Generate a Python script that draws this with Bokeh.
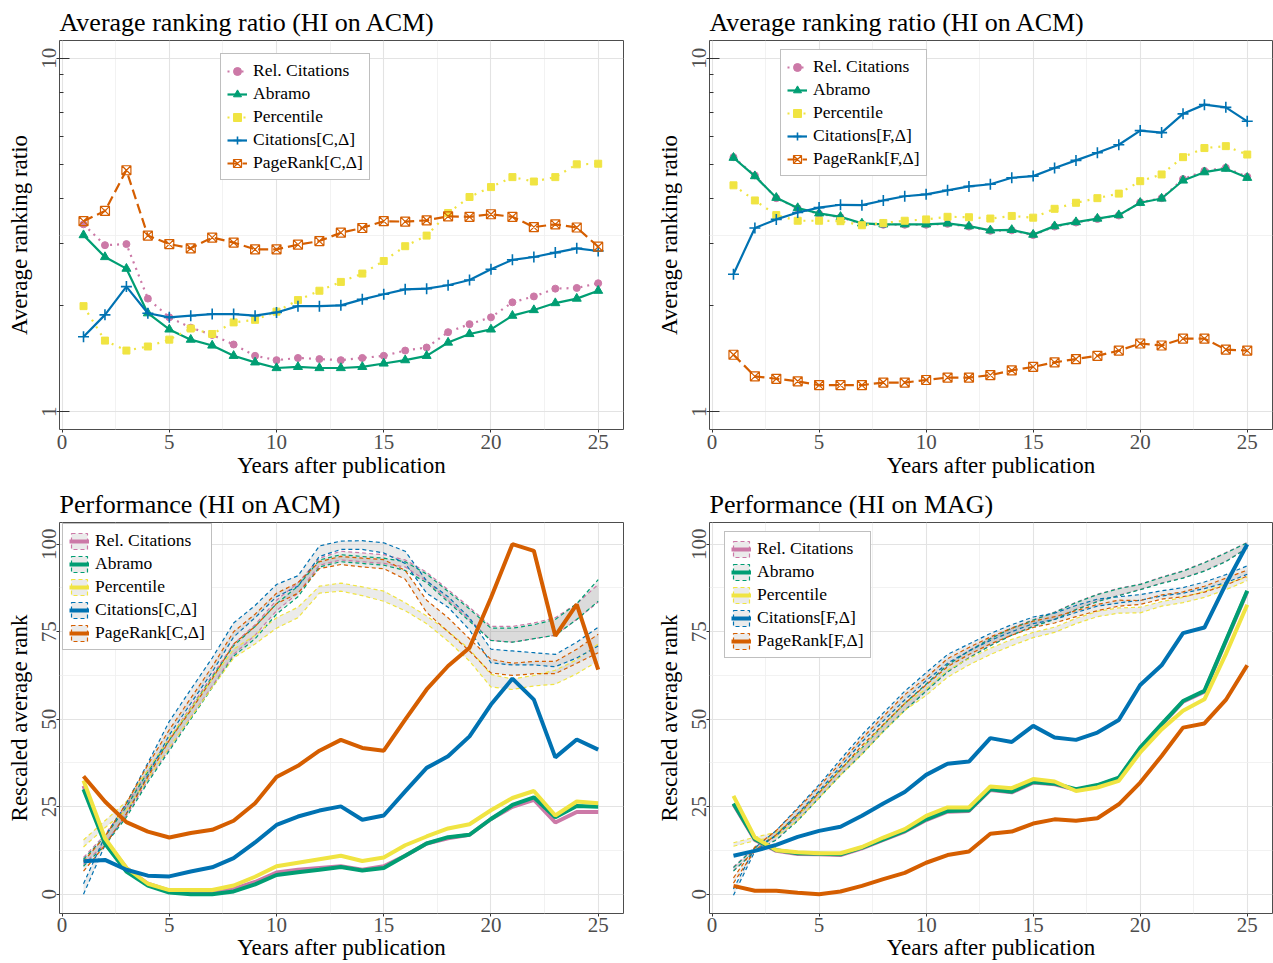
from bokeh.plotting import figure
from bokeh.layouts import column, row
from bokeh.models import FixedTicker, Legend, LegendItem, Range1d, NumeralTickFormatter
from bokeh.embed import file_html
from bokeh.resources import INLINE

FONT = "Liberation Serif"

years = list(range(1, 26))
names_C = ["Rel. Citations", "Abramo", "Percentile", "Citations[C,Δ]", "PageRank[C,Δ]"]
names_F = ["Rel. Citations", "Abramo", "Percentile", "Citations[F,Δ]", "PageRank[F,Δ]"]
colors = ["#CC79A7", "#009E73", "#F0E442", "#0072B2", "#D55E00"]
x_ticks = [0, 5, 10, 15, 20, 25]
x_minor = [2.5, 7.5, 12.5, 17.5, 22.5]
log_ticks = [1, 10]
log_minor_ticks = [2, 3, 4, 5, 6, 7, 8, 9]
rank_ticks = [0, 25, 50, 75, 100]
rank_minor = [12.5, 37.5, 62.5, 87.5]

# ---- Top-left: Average ranking ratio (HI on ACM), [C,Δ]
tl_rel = [3.39, 2.96, 2.98, 2.09, 1.85, 1.73, 1.65, 1.55, 1.44, 1.40, 1.42, 1.41, 1.40, 1.42, 1.44, 1.49, 1.52, 1.68, 1.77, 1.85, 2.04, 2.12, 2.23, 2.24, 2.31]
tl_abr = [3.16, 2.74, 2.54, 1.90, 1.71, 1.60, 1.54, 1.44, 1.38, 1.33, 1.34, 1.33, 1.33, 1.34, 1.37, 1.40, 1.44, 1.57, 1.66, 1.71, 1.87, 1.94, 2.03, 2.09, 2.20]
tl_pct = [1.99, 1.59, 1.49, 1.53, 1.60, 1.72, 1.66, 1.79, 1.82, 1.92, 2.07, 2.20, 2.33, 2.46, 2.67, 2.94, 3.15, 3.65, 4.05, 4.32, 4.61, 4.48, 4.61, 5.01, 5.03]
tl_cit = [1.63, 1.88, 2.26, 1.90, 1.85, 1.87, 1.89, 1.89, 1.87, 1.91, 1.99, 1.99, 2.00, 2.08, 2.15, 2.22, 2.23, 2.28, 2.36, 2.53, 2.69, 2.74, 2.82, 2.90, 2.85]
tl_pr = [3.46, 3.70, 4.82, 3.15, 2.98, 2.90, 3.11, 3.01, 2.88, 2.88, 2.97, 3.04, 3.21, 3.31, 3.46, 3.45, 3.48, 3.57, 3.56, 3.62, 3.56, 3.33, 3.39, 3.32, 2.93]

# ---- Top-right: Average ranking ratio, [F,Δ]
tr_rel = [5.25, 4.66, 4.02, 3.76, 3.63, 3.55, 3.40, 3.38, 3.38, 3.38, 3.40, 3.34, 3.25, 3.26, 3.16, 3.34, 3.43, 3.51, 3.59, 3.91, 4.02, 4.55, 4.80, 4.90, 4.62]
tr_abr = [5.23, 4.64, 4.03, 3.77, 3.64, 3.56, 3.41, 3.39, 3.39, 3.39, 3.41, 3.35, 3.26, 3.27, 3.17, 3.35, 3.44, 3.52, 3.60, 3.90, 4.01, 4.51, 4.76, 4.87, 4.59]
tr_pct = [4.37, 3.96, 3.60, 3.47, 3.47, 3.46, 3.37, 3.42, 3.47, 3.50, 3.56, 3.55, 3.52, 3.58, 3.54, 3.75, 3.90, 4.02, 4.14, 4.49, 4.69, 5.25, 5.57, 5.64, 5.34]
tr_cit = [2.45, 3.31, 3.50, 3.66, 3.78, 3.85, 3.84, 3.96, 4.07, 4.12, 4.23, 4.34, 4.40, 4.59, 4.64, 4.89, 5.14, 5.40, 5.69, 6.24, 6.16, 6.96, 7.39, 7.26, 6.63]
tr_pr = [1.45, 1.26, 1.24, 1.22, 1.19, 1.19, 1.19, 1.21, 1.21, 1.23, 1.25, 1.25, 1.27, 1.31, 1.34, 1.38, 1.41, 1.44, 1.49, 1.56, 1.54, 1.61, 1.61, 1.50, 1.49]

# ---- Bottom-left: Performance (HI on ACM) solid lines
bl_rel = [31, 15.5, 7.5, 3, 1, 0.5, 0.5, 1.5, 3.5, 6.2, 7, 7.5, 8, 7, 8, 11, 14.5, 16, 17, 21.5, 25, 27, 20.5, 23.5, 23.5]
bl_abr = [30, 14.5, 6.5, 2.5, 0.5, 0, 0, 0.8, 2.8, 5.5, 6.3, 7, 7.8, 6.8, 7.5, 11, 14.5, 16.3, 17, 21.5, 25.5, 27.7, 22, 25.2, 25]
bl_pct = [32.5, 16, 7.5, 3, 1.2, 1.2, 1.2, 2.5, 5, 8, 9, 10, 11, 9.5, 10.5, 14, 16.5, 18.8, 20, 24, 27.5, 29.5, 22.5, 26.5, 26]
bl_cit = [9.4, 9.8, 7.0, 5.3, 5.1, 6.5, 7.7, 10.3, 14.8, 19.8, 22.2, 23.9, 25.1, 21.3, 22.5, 29.4, 36.1, 39.4, 45.1, 54.2, 61.6, 55.6, 39.1, 44.2, 41.3]
bl_pr = [33.7, 26.5, 20.6, 17.9, 16.2, 17.5, 18.4, 21.0, 26.0, 33.5, 36.7, 41.0, 44.1, 41.8, 41.0, 49.9, 58.5, 65.2, 70.4, 84.7, 100, 98.1, 73.8, 82.8, 64.2]
# bands (lower / upper)
bl_rel_lo = [8.5, 14.5, 22.5, 32.5, 41.5, 50.5, 59.5, 68.5, 74, 81, 86, 94, 95.5, 95, 94.5, 93.5, 89.5, 84, 78.5, 72.5, 72, 73, 74, 78.5, 83.5]
bl_rel_hi = [10.5, 17, 25.5, 35.5, 44.5, 53.5, 62.5, 71.5, 77, 84, 89, 96, 98, 97.5, 97, 95.5, 92, 87, 82, 76.5, 76.5, 77.5, 79, 83, 88.5]
bl_abr_lo = [8, 14, 22, 32, 41, 50, 59, 68, 73, 80, 85, 93.5, 95, 94.5, 94, 92.5, 89, 83.5, 78, 72.5, 72, 73, 74, 78.5, 83.7]
bl_abr_hi = [10, 16.5, 25, 35, 44, 53, 62, 71, 76.5, 83, 88, 95.5, 97, 96.5, 96, 95, 91.5, 86.5, 81.5, 76, 76, 77, 78.5, 83, 89.9]
bl_pct_lo = [13.5, 19, 24, 33, 42, 50.5, 59, 67.5, 71.5, 76, 79, 86, 86.6, 85.3, 83.7, 81, 77.3, 72.3, 66.6, 59.2, 58.5, 59.5, 60, 63, 66.6]
bl_pct_hi = [15.5, 21, 26.5, 35.5, 44.7, 53, 61.5, 70, 74, 79, 82, 88, 88.9, 87.8, 86.6, 83.3, 79.5, 75.1, 70, 62.8, 61.5, 62.5, 64, 67, 71.5]
bl_cit_lo = [0, 14, 23, 34, 45.5, 54.5, 63.5, 73.5, 79, 85, 88, 96.5, 98.5, 98.5, 97.5, 94.5, 86, 82, 75.5, 66.1, 65.5, 65.5, 65, 67.5, 70.9]
bl_cit_hi = [3, 16.5, 26, 37.5, 49.4, 58.5, 67.5, 77.5, 82.5, 88.5, 91, 99.5, 100.9, 101, 100.4, 98, 89.5, 85, 79, 70, 69.5, 69, 68.5, 72, 76.3]
bl_pr_lo = [6.6, 14, 23, 33.5, 44, 52.5, 61.5, 71.5, 76.5, 83, 86, 93, 94.2, 93.5, 93, 90, 80.5, 75, 69.5, 63.2, 62.5, 63, 63, 66, 69]
bl_pr_hi = [9.4, 16.5, 26, 37, 47, 56, 65, 75, 80, 86, 89, 95, 96.5, 96, 95.6, 92.5, 84, 79, 73, 67.1, 66, 66.5, 66.5, 70, 74.3]

# ---- Bottom-right: Performance (HI on MAG) solid lines
br_rel = [25.7, 15.5, 12.4, 11.5, 11.4, 11.2, 13.1, 15.5, 17.9, 21.2, 23.6, 23.8, 29.8, 29.1, 31.9, 31.4, 29.8, 31.0, 33.1, 41.7, 48.4, 55.0, 57.9, 72.2, 86.5]
br_abr = [25.9, 15.7, 12.6, 11.7, 11.6, 11.4, 13.3, 15.7, 18.1, 21.4, 23.8, 24.0, 30.0, 29.3, 32.1, 31.6, 30.0, 31.2, 33.3, 41.9, 48.6, 55.2, 58.1, 72.4, 86.7]
br_pct = [28.1, 16.2, 12.6, 12.0, 11.7, 11.7, 13.5, 16.2, 18.6, 22.4, 24.8, 24.8, 30.8, 30.3, 32.9, 32.2, 29.5, 30.5, 32.4, 40.5, 47.1, 52.4, 55.7, 68.6, 82.7]
br_cit = [11.0, 12.4, 14.1, 16.4, 18.1, 19.3, 22.4, 25.9, 29.2, 34.1, 37.3, 37.9, 44.6, 43.5, 48.1, 44.8, 44.1, 46.2, 49.8, 59.8, 65.4, 74.6, 76.2, 88.6, 100]
br_pr = [2.4, 1.0, 1.0, 0.4, 0, 0.8, 2.4, 4.3, 6.1, 9.0, 11.2, 12.2, 17.3, 17.9, 20.2, 21.4, 21.0, 21.7, 25.7, 31.9, 39.5, 47.6, 48.8, 55.5, 65.4]
br_rel_lo = [6.8, 12.4, 15.6, 21.1, 27.6, 34.1, 40.1, 46.6, 52.6, 58.1, 63.6, 67.6, 71.1, 74.1, 76.6, 78.6, 81.4, 83.7, 85.4, 87.1, 88.9, 90.4, 92.4, 95.1, 99]
br_rel_hi = [7.8, 13.4, 16.8, 22.5, 29.1, 35.8, 41.9, 48.4, 54.6, 60.1, 65.6, 69.6, 73.1, 76.1, 78.4, 80.6, 83.4, 85.7, 87.4, 88.6, 90.6, 92.4, 94.8, 97.6, 100.5]
br_abr_lo = [6.6, 12.3, 15.5, 21, 27.5, 34, 40, 46.5, 52.5, 58, 63.5, 67.5, 71, 74, 76.5, 78.5, 81.3, 83.6, 85.3, 87, 88.8, 90.3, 92.3, 95, 98.9]
br_abr_hi = [7.6, 13.3, 16.7, 22.4, 29, 35.7, 41.8, 48.3, 54.5, 60, 65.5, 69.5, 73, 76, 78.3, 80.5, 83.3, 85.6, 87.3, 88.5, 90.5, 92.3, 94.7, 97.5, 100.4]
br_pct_lo = [13.7, 15.3, 16.5, 21, 27.5, 34, 40, 46.5, 52.5, 56.8, 62, 65.5, 68.5, 71, 73.3, 74.8, 77.3, 79.3, 80.3, 80.4, 82.3, 83.3, 84.8, 87, 89.6]
br_pct_hi = [14.7, 16.3, 17.7, 22.4, 29, 35.7, 41.8, 48.3, 54.5, 58.6, 64, 67.3, 70.3, 72.8, 74.8, 76.3, 78.8, 80.8, 81.8, 82, 83.6, 84.8, 86.5, 88.7, 90.6]
br_cit_lo = [-0.3, 12.3, 17, 23, 29.5, 36.5, 43.5, 49.5, 55.5, 61, 66, 69.5, 72.5, 75, 77.3, 78.5, 80.5, 82.3, 83.2, 84, 85.2, 86, 87.3, 89, 91.4]
br_cit_hi = [1.5, 13.3, 18.2, 24.7, 31.3, 38.5, 45.6, 51.8, 58, 63.3, 68.5, 71.5, 74.5, 77, 79.2, 80.3, 82.5, 84.3, 85, 85.6, 86.7, 87.6, 89.2, 91.3, 93.8]
br_pr_lo = [3.2, 12.5, 17, 22.8, 29, 35.5, 42.5, 48.5, 54.5, 59.8, 65, 68.5, 71.5, 74, 76.2, 77.5, 79.3, 81, 82.3, 82.8, 84.3, 85, 86.3, 88.3, 90.9]
br_pr_hi = [4.7, 13.5, 18.2, 24.4, 30.8, 37.5, 44.5, 50.8, 57, 61.9, 67.3, 70.5, 73.5, 76, 78, 79.3, 81, 82.8, 84, 83.9, 85.5, 86.4, 88, 90.3, 92.6]

# ---------------------------------------------------------------------------
line_dashes = ["2 5", "solid", "2 6", "solid", "10 5"]
markers = ["circle", "triangle", "square", "cross", "square_x"]
marker_sizes = [7, 9, 7, 11, 9]
NAN = float("nan")


def make_fig(title, ylabel, w, h, left, right, top, bottom, log, xstand):
    kw = dict(width=w, height=h, output_backend="svg", toolbar_location=None,
              x_range=Range1d(-0.12, 26.18),
              min_border_left=left, min_border_right=right,
              min_border_top=top, min_border_bottom=bottom,
              x_axis_label="Years after publication", y_axis_label=ylabel,
              title=title)
    if log:
        kw.update(y_axis_type="log", y_range=Range1d(10 ** -0.05, 10 ** 1.05))
    else:
        kw.update(y_range=Range1d(-5.5, 106.2))
    p = figure(**kw)
    p.title.text_font = FONT
    p.title.text_font_size = "26px"
    p.title.text_font_style = "normal"
    p.title.text_color = "#000000"
    p.title.align = "left"
    p.title.offset = 0
    p.title.standoff = 7
    p.outline_line_color = "#4d4d4d"
    p.outline_line_width = 1
    p.outline_line_alpha = 1
    for ax in p.axis:
        ax.axis_label_text_font = FONT
        ax.axis_label_text_font_size = "23px"
        ax.axis_label_text_font_style = "normal"
        ax.axis_label_text_color = "#000000"
        ax.major_label_text_font = FONT
        ax.major_label_text_font_size = "21px"
        ax.major_label_text_color = "#4d4d4d"
        ax.axis_line_color = None
        ax.major_tick_line_color = "#333333"
        ax.major_tick_out = 3
        ax.major_tick_in = 0
        ax.minor_tick_line_color = None
    p.xaxis.major_label_standoff = xstand[0]
    p.xaxis.axis_label_standoff = xstand[1]
    p.yaxis.major_label_standoff = 0
    p.yaxis.axis_label_standoff = 8
    p.yaxis.major_label_orientation = "vertical"
    p.xaxis.ticker = FixedTicker(ticks=x_ticks)
    p.xgrid.ticker = FixedTicker(ticks=x_ticks, minor_ticks=x_minor)
    for g in (p.xgrid, p.ygrid):
        g.grid_line_color = "#e3e3e3"
        g.grid_line_width = 1.1
        g.minor_grid_line_color = "#efefef"
        g.minor_grid_line_width = 0.8
    if log:
        p.yaxis.ticker = FixedTicker(ticks=log_ticks, minor_ticks=log_minor_ticks)
        p.yaxis.formatter = NumeralTickFormatter(format="0")
        p.yaxis.major_tick_in = 10
        p.yaxis.minor_tick_line_color = "#333333"
        p.yaxis.minor_tick_in = 4
        p.yaxis.minor_tick_out = 0
        p.ygrid.ticker = FixedTicker(ticks=log_ticks, minor_ticks=[10 ** 0.5])
    else:
        p.yaxis.ticker = FixedTicker(ticks=rank_ticks)
        p.ygrid.ticker = FixedTicker(ticks=rank_ticks, minor_ticks=rank_minor)
    return p


def legend_for(p, items, loc):
    lg = Legend(items=items, location=loc, padding=6, spacing=2, margin=0,
                glyph_width=20, glyph_height=20, label_height=20, label_standoff=6,
                label_text_font=FONT, label_text_font_size="17.5px",
                label_text_color="#000000",
                border_line_color="#7f7f7f", border_line_width=1,
                background_fill_color="white", background_fill_alpha=1)
    p.add_layout(lg)


def ratio_panel(p, series, names, loc):
    items = []
    for vals, name, c, dash, mk, ms in zip(series, names, colors, line_dashes, markers, marker_sizes):
        lr = p.line(years, vals, line_color=c, line_width=2.2, line_dash=dash)
        if mk == "cross":
            sr = p.scatter(years, vals, marker=mk, size=ms, line_color=c, line_width=1.6)
        elif mk == "square_x":
            sr = p.scatter(years, vals, marker=mk, size=ms, line_color=c, fill_color=None, line_width=1.2)
        else:
            sr = p.scatter(years, vals, marker=mk, size=ms, line_color=c, fill_color=c)
        items.append(LegendItem(label=name, renderers=[lr, sr]))
    legend_for(p, items, loc)


def perf_panel(p, solids, bands, names, loc):
    for (lo, hi), c in zip(bands, colors):
        p.varea(x=years, y1=lo, y2=hi, fill_color="#999999", fill_alpha=0.2)
    for (lo, hi), c in zip(bands, colors):
        p.line(years, lo, line_color=c, line_width=1.2, line_dash="4 3")
        p.line(years, hi, line_color=c, line_width=1.2, line_dash="4 3")
    items = []
    for vals, name, c in zip(solids, names, colors):
        # legend-only key: grey box with dashed outline (not drawn in the plot, NaN position)
        key = p.rect(x=[NAN], y=[NAN], width=1, height=1, fill_color="#999999", fill_alpha=0.2,
                     line_color=c, line_dash="4 3", line_width=1.2)
        lr = p.line(years, vals, line_color=c, line_width=4)
        items.append(LegendItem(label=name, renderers=[key, lr]))
    legend_for(p, items, loc)


tl = make_fig("Average ranking ratio (HI on ACM)", "Average ranking ratio", 636, 481, 59, 13, 40, 52, True, (2, 1))
ratio_panel(tl, [tl_rel, tl_abr, tl_pct, tl_cit, tl_pr], names_C, (161, 249))

tr = make_fig("Average ranking ratio (HI on ACM)", "Average ranking ratio", 637, 481, 73, 1, 40, 52, True, (2, 1))
ratio_panel(tr, [tr_rel, tr_abr, tr_pct, tr_cit, tr_pr], names_F, (71, 253))

bl = make_fig("Performance (HI on ACM)", "Rescaled average rank", 636, 482, 59, 13, 41, 50, False, (1, 0))
perf_panel(bl, [bl_rel, bl_abr, bl_pct, bl_cit, bl_pr],
           [(bl_rel_lo, bl_rel_hi), (bl_abr_lo, bl_abr_hi), (bl_pct_lo, bl_pct_hi),
            (bl_cit_lo, bl_cit_hi), (bl_pr_lo, bl_pr_hi)], names_C, (3, 263))

br = make_fig("Performance (HI on MAG)", "Rescaled average rank", 637, 482, 73, 1, 41, 50, False, (1, 0))
perf_panel(br, [br_rel, br_abr, br_pct, br_cit, br_pr],
           [(br_rel_lo, br_rel_hi), (br_abr_lo, br_abr_hi), (br_pct_lo, br_pct_hi),
            (br_cit_lo, br_cit_hi), (br_pr_lo, br_pr_hi)], names_F, (15, 255))

layout = column(row(tl, tr), row(bl, br))
open("out.html", "w", encoding="utf-8").write(file_html(layout, INLINE))
